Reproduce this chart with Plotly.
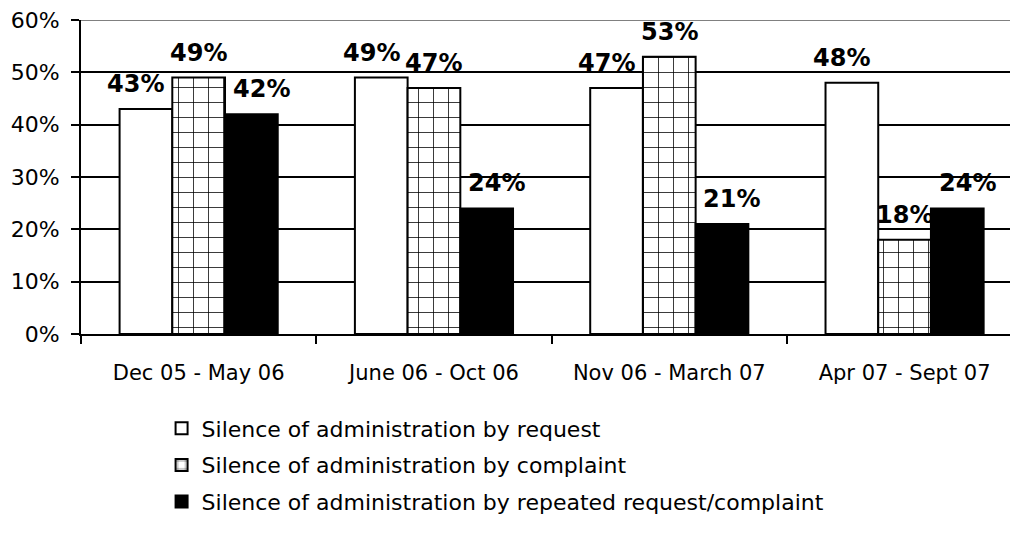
import plotly.graph_objects as go

categories = ["Dec 05 - May 06", "June 06 - Oct 06", "Nov 06 - March 07", "Apr 07 - Sept 07"]
series_names = [
    "Silence of administration by request",
    "Silence of administration by complaint",
    "Silence of administration by repeated request/complaint",
]
by_request = [43, 49, 47, 48]
by_complaint = [49, 47, 53, 18]
by_repeated = [42, 24, 21, 24]
y_ticks = [0, 10, 20, 30, 40, 50, 60]
y_tick_text = [f"{v}%" for v in y_ticks]

# page body has an 8px margin; compensate
W, H = 1010, 531
ML, MR, MT, MB = 73, 0, 10, 205
XR = [-0.5, 3.482]
YR = [0, 60]
BARGAP = 0.328
FONT = "DejaVu Sans"

fig = go.Figure()
styles = [
    dict(color="white", pattern=None),
    dict(color="white", pattern=dict(shape="+", size=15, solidity=0.1, fgcolor="black", bgcolor="white", fillmode="replace")),
    dict(color="black", pattern=None),
]
all_vals = [by_request, by_complaint, by_repeated]
for i, (name, vals, st) in enumerate(zip(series_names, all_vals, styles)):
    marker = dict(color=st["color"], line=dict(color="black", width=2))
    if st["pattern"]:
        marker["pattern"] = st["pattern"]
    fig.add_trace(go.Bar(x=categories, y=vals, name=name, marker=marker,
                         legendgroup=f"g{i}", hoverinfo="skip"))

plot_w = W - ML - MR
px_per_cat = plot_w / (XR[1] - XR[0])
bar_w = (1 - BARGAP) * px_per_cat / 3
extra = [-10, 0, 10]
for i, vals in enumerate(all_vals):
    for c, v in zip(categories, vals):
        fig.add_annotation(x=c, y=v, text=f"{v}%", showarrow=False,
                           xshift=(i - 1) * bar_w + extra[i], yshift=25,
                           yanchor="middle",
                           font=dict(family=FONT, size=24, color="black", weight="bold"))

fig.add_shape(type="line", xref="paper", yref="y", x0=0, x1=1, y0=y_ticks[-1], y1=y_ticks[-1],
              line=dict(color="#808080", width=2), layer="above")

fig.update_layout(
    width=W, height=H,
    margin=dict(l=ML, r=MR, t=MT, b=MB, pad=0),
    paper_bgcolor="white", plot_bgcolor="white",
    barmode="group", bargap=BARGAP, bargroupgap=0,
    font=dict(family=FONT, size=20, color="black"),
    legend=dict(x=0.086, y=-0.234, xanchor="left", yanchor="top",
                orientation="v", font=dict(size=22), tracegroupgap=5,
                bgcolor="rgba(0,0,0,0)"),
    showlegend=True,
)
fig.update_xaxes(range=XR, showline=True, linecolor="black", linewidth=2,
                 ticks="outside", tickson="boundaries", ticklen=8, tickwidth=2,
                 tickcolor="black", showgrid=False, tickfont=dict(size=21),
                 ticklabelstandoff=19, ticklabeloverflow="allow")
fig.update_yaxes(range=YR, tickmode="array", tickvals=y_ticks, ticktext=y_tick_text,
                 showline=True, linecolor="black", linewidth=2, ticks="outside", ticklen=8,
                 tickwidth=2, tickcolor="black", showgrid=True, gridcolor="black",
                 gridwidth=1.5, zeroline=False, tickfont=dict(size=22),
                 ticklabelstandoff=7, ticklabeloverflow="allow")

fig.write_html("out.html")
